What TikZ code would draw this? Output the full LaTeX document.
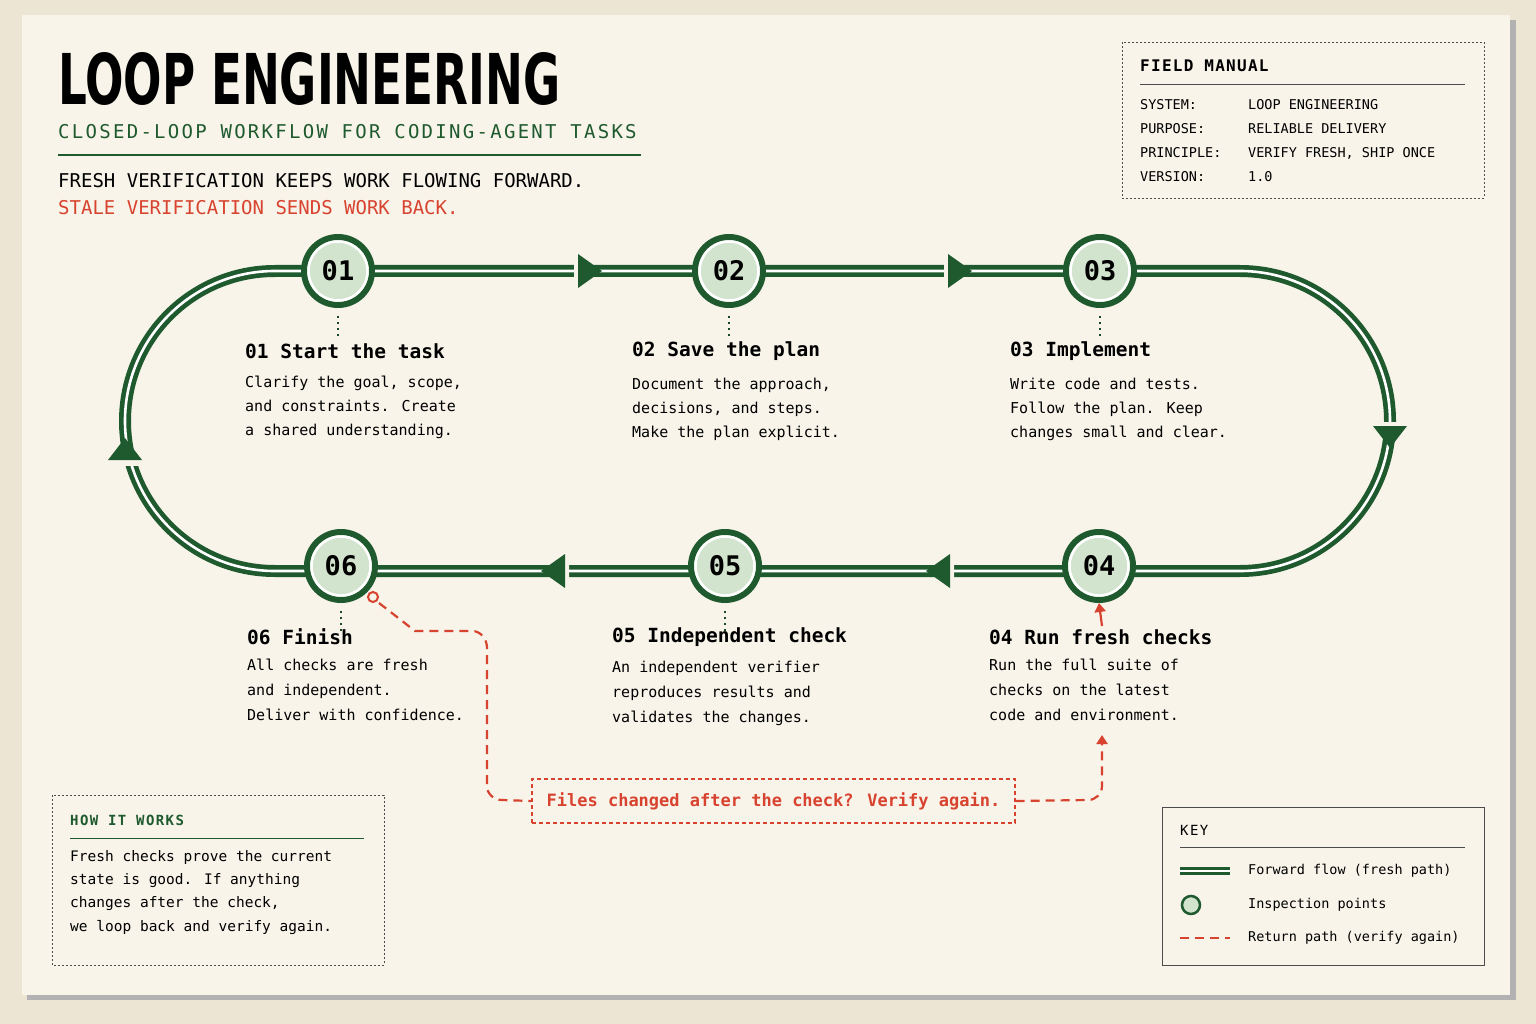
\documentclass[tikz,border=0pt]{standalone}
\usepackage{fontspec}
\setmainfont{DejaVu Sans Mono}
\newfontfamily\titlefont{DejaVu Sans}
\usepackage{xcolor}
\usetikzlibrary{arrows.meta,calc,positioning}
\definecolor{loopgreen}{HTML}{1F5A2E}
\definecolor{loopred}{HTML}{D8432F}
\definecolor{paper}{HTML}{F8F4EA}
\definecolor{outside}{HTML}{EDE5D3}
\definecolor{pale}{HTML}{D3E4CE}
\tikzset{
  txt/.style={anchor=west,inner sep=0pt,font=\fontsize{15}{24}\selectfont,align=left},
  head/.style={anchor=west,inner sep=0pt,font=\fontsize{19.5}{22}\selectfont\bfseries},
  small/.style={anchor=west,inner sep=0pt,font=\fontsize{13.5}{16}\selectfont},
  station/.style={circle,draw=loopgreen,line width=6pt,fill=pale,minimum size=68pt,
    inner sep=0pt,font=\fontsize{27}{30}\selectfont\bfseries},
  track/.style={draw=loopgreen,line width=12pt},
  stripe/.style={draw=white,line width=2.6pt},
  tip/.style={fill=loopgreen},
  back/.style={draw=loopred,line width=2.2pt,dash pattern=on 9pt off 6pt},
  frame/.style={draw=black!70,line width=0.8pt,dash pattern=on 2pt off 2pt},
}
\begin{document}
\begin{tikzpicture}[x=1pt,y=-1pt]
\useasboundingbox (0,0) rectangle (1536,1024);
\fill[outside] (0,0) rectangle (1536,1024);
\fill[black!30] (27,20) rectangle (1516,1000);
\fill[paper] (22,15) rectangle (1510,995);
% title block
\node[anchor=south west,inner sep=0pt] (title) at (58,106)
  {\resizebox{502pt}{52pt}{\titlefont\bfseries LOOP ENGINEERING}};
\node[anchor=west,inner sep=0pt,text=loopgreen,font=\fontsize{19}{20}\selectfont] (subtitle) at (58,132)
  {\addfontfeature{LetterSpace=12}CLOSED-LOOP WORKFLOW FOR CODING-AGENT TASKS};
\draw[loopgreen,line width=2.5pt] (58,155) -- (641,155);
\node[anchor=west,inner sep=0pt,font=\fontsize{19}{20}\selectfont] (tag1) at (58,181)
  {FRESH VERIFICATION KEEPS WORK FLOWING FORWARD.};
\node[anchor=west,inner sep=0pt,text=loopred,font=\fontsize{19}{20}\selectfont] (tag2) at (58,208)
  {STALE VERIFICATION SENDS WORK BACK.};
% field manual
\draw[frame] (1122,42) rectangle (1484,198);
\node[anchor=west,inner sep=0pt,font=\fontsize{16}{18}\selectfont\bfseries] (fm) at (1140,66)
  {\addfontfeature{LetterSpace=8}FIELD MANUAL};
\draw[black!70,line width=0.8pt] (1140,84) -- (1465,84);
\foreach \k/\v [count=\i] in {SYSTEM:/LOOP ENGINEERING,PURPOSE:/RELIABLE DELIVERY,
    PRINCIPLE:/{VERIFY FRESH, SHIP ONCE},VERSION:/1.0}{
  \node[small] (fmk\i) at (1140,81+24*\i) {\k};
  \node[small] (fmv\i) at (1248,81+24*\i) {\v};
}
% the loop
\draw[track] (275,271) -- (1240,271) arc[start angle=270,end angle=450,radius=150] -- (275,571)
  arc[start angle=90,end angle=270,radius=150] -- cycle;
\draw[stripe] (275,271) -- (1240,271) arc[start angle=270,end angle=450,radius=150] -- (275,571)
  arc[start angle=90,end angle=270,radius=150] -- cycle;
% arrow tips on the loop
\foreach \x in {578,948}{
  \fill[paper] (\x-4,258) -- (\x+7,271) -- (\x-4,284) -- cycle;
  \fill[tip] (\x,254) -- (\x+24,271) -- (\x,288) -- cycle;}
\foreach \x in {565,950}{
  \fill[paper] (\x+4,558) -- (\x-7,571) -- (\x+4,584) -- cycle;
  \fill[tip] (\x,554) -- (\x-24,571) -- (\x,588) -- cycle;}
\fill[paper] (1376,422) rectangle (1404,430);
\fill[tip] (1373,426) -- (1407,426) -- (1390,448) -- cycle;
\fill[paper] (111,458) rectangle (139,466);
\fill[tip] (108,460) -- (142,460) -- (125,438) -- cycle;
% stations
\foreach \n/\x/\y in {01/338/271,02/729/271,03/1100/271,04/1099/566,05/725/566,06/341/566}{
  \node[station] (s\n) at (\x,\y) {};
  \draw[white,line width=2.5pt] (s\n) circle (29.5pt);
  \node[inner sep=0pt,font=\fontsize{27}{30}\selectfont\bfseries] at (s\n) {\n};
}
\foreach \n in {01,02,03,05,06}
  \draw[loopgreen!80!black,line width=2pt,dash pattern=on 2pt off 4pt] ($(s\n.south)+(0,8)$) -- ++(0,22);
% steps
\node[head] (h01) at (245,351) {01 Start the task};
\node[txt,below=17pt of h01.south west,anchor=north west] (t01)
  {Clarify the goal, scope,\\and constraints. Create\\a shared understanding.};
\node[head] (h02) at (632,351) {02 Save the plan};
\node[txt,below=17pt of h02.south west,anchor=north west] (t02)
  {Document the approach,\\decisions, and steps.\\Make the plan explicit.};
\node[head] (h03) at (1010,351) {03 Implement};
\node[txt,below=17pt of h03.south west,anchor=north west] (t03)
  {Write code and tests.\\Follow the plan. Keep\\changes small and clear.};
\node[head] (h04) at (989,637) {04 Run fresh checks};
\node[txt,below=14pt of h04.south west,anchor=north west,font=\fontsize{15}{25}\selectfont] (t04)
  {Run the full suite of\\checks on the latest\\code and environment.};
\node[head] (h05) at (612,637) {05 Independent check};
\node[txt,below=14pt of h05.south west,anchor=north west,font=\fontsize{15}{25}\selectfont] (t05)
  {An independent verifier\\reproduces results and\\validates the changes.};
\node[head] (h06) at (247,637) {06 Finish};
\node[txt,below=14pt of h06.south west,anchor=north west,font=\fontsize{15}{25}\selectfont] (t06)
  {All checks are fresh\\and independent.\\Deliver with confidence.};
% return path
\node[draw=loopred,line width=1.2pt,dash pattern=on 4pt off 3pt,fill=paper,minimum width=483pt,
  minimum height=44pt,text=loopred,font=\fontsize{17}{20}\selectfont\bfseries] (again) at (773.5,801)
  {Files changed after the check? Verify again.};
\coordinate (tap) at (373,597);
\draw[back] (tap) ++(6,6) -- (415,631) -- (472,631) to[out=0,in=90] (487,648) -- (487,786)
  to[out=270,in=180] (502,800) -- (again.west);
\draw[loopred,line width=2pt,fill=paper] (tap) circle (5pt);
\draw[back,-{Triangle[length=9pt,width=11pt]}] (again.east) -- (1088,800) to[out=0,in=270] (1102,786)
  -- (1102,735);
\draw[loopred,line width=2.2pt,-{Triangle[length=9pt,width=11pt]}] (1102,626) -- (s04.south);
% how it works
\draw[frame] (52,795) rectangle (384,965);
\node[anchor=west,inner sep=0pt,text=loopgreen,font=\fontsize{14}{16}\selectfont\bfseries] (hw) at (70,820)
  {\addfontfeature{LetterSpace=10}HOW IT WORKS};
\draw[loopgreen,line width=0.8pt] (70,838) -- (364,838);
\node[anchor=north west,inner sep=0pt,font=\fontsize{14.5}{23.3}\selectfont,align=left] (hwt) at (70,850)
  {Fresh checks prove the current\\state is good. If anything\\changes after the check,\\we loop back and verify again.};
% key
\draw[black!70,line width=1pt] (1162,807) rectangle (1484,965);
\node[anchor=west,inner sep=0pt,font=\fontsize{14}{16}\selectfont] (key) at (1180,830)
  {\addfontfeature{LetterSpace=10}KEY};
\draw[black!70,line width=0.8pt] (1180,847) -- (1465,847);
\draw[loopgreen,line width=8pt] (1180,871) -- (1230,871);
\draw[white,line width=2pt] (1180,871) -- (1230,871);
\draw[loopgreen,line width=2.5pt,fill=pale] (1191,905) circle (9pt);
\draw[back] (1180,938) -- (1230,938);
\node[small] (k1) at (1248,871) {Forward flow (fresh path)};
\node[small] (k2) at (1248,905) {Inspection points};
\node[small] (k3) at (1248,938) {Return path (verify again)};
\end{tikzpicture}
\end{document}
